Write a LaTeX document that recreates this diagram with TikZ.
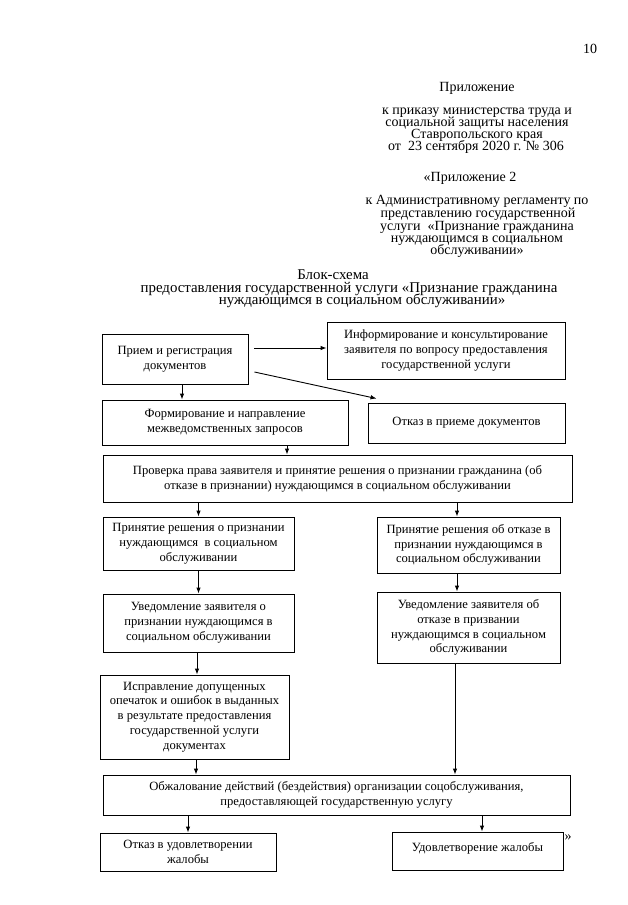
\documentclass[tikz,border=0pt]{standalone}
\usepackage{fontspec}
\setmainfont{Liberation Serif}
\usetikzlibrary{arrows.meta}
\tikzset{
  box/.style={draw, line width=0.9pt, align=center, inner sep=0pt, font=\fontsize{12.6}{14.8}\selectfont},
  arr/.style={line width=0.9pt, -{Latex[length=6pt,width=4.5pt]}},
  hdr/.style={anchor=base, inner sep=0pt, font=\fontsize{14}{12.3}\selectfont},
  ttl/.style={anchor=base, inner sep=0pt, font=\fontsize{14.9}{12.3}\selectfont},
}
\begin{document}
\begin{tikzpicture}[x=1pt,y=-1pt]
\useasboundingbox[fill=white] (0,0) rectangle (627,905);
% header
\node[hdr] (pg) at (590,53) {10};
\node[hdr] (h1) at (477,91) {Приложение};
\node[hdr] (h2) at (477,114) {к приказу министерства труда и};
\node[hdr] (h3) at (477,126) {социальной защиты населения};
\node[hdr] (h4) at (477,138) {Ставропольского края};
\node[hdr] (h5) at (476,150) {от\ \ 23 сентября 2020 г. № 306};
\node[hdr] (h6) at (470,181) {«Приложение 2};
\node[hdr] (h7) at (477,204) {к Административному регламенту по};
\node[hdr] (h8) at (478,217) {представлению государственной};
\node[hdr] (h9) at (477,230) {услуги\ \ «Признание гражданина};
\node[hdr] (h10) at (477,242) {нуждающимся в социальном};
\node[hdr] (h11) at (477,254) {обслуживании»};
% title
\node[ttl] (t1) at (333,279) {Блок-схема};
\node[ttl] (t2) at (349,292) {предоставления государственной услуги «Признание гражданина};
\node[ttl] (t3) at (362,304) {нуждающимся в социальном обслуживании»};
% boxes
\node[box, minimum width=146, minimum height=50] (priem) at (175,359) {Прием и регистрация\\документов};
\node[box, minimum width=238, minimum height=57] (inform) at (446,350.5) {Информирование и консультирование\\заявителя по вопросу предоставления\\государственной услуги};
\node[box, minimum width=246, minimum height=45] (form) at (225,422.5) {Формирование и направление\\межведомственных запросов};
\node[box, minimum width=197, minimum height=40] (otkaz) at (466.5,423) {Отказ в приеме документов};
\node[box, minimum width=469, minimum height=47] (prov) at (337.5,478.5) {Проверка права заявителя и принятие решения о признании гражданина (об\\отказе в признании) нуждающимся в социальном обслуживании};
\node[box, minimum width=191, minimum height=53] (prin1) at (198.5,543.5) {Принятие решения о признании\\нуждающимся\ \ в социальном\\обслуживании};
\node[box, minimum width=183, minimum height=56] (prin2) at (468.5,545) {Принятие решения об отказе в\\признании нуждающимся в\\социальном обслуживании};
\node[box, minimum width=191, minimum height=58] (uv1) at (198.5,623) {Уведомление заявителя о\\признании нуждающимся в\\социальном обслуживании};
\node[box, minimum width=183, minimum height=71] (uv2) at (468.5,627.5) {Уведомление заявителя об\\отказе в призвании\\нуждающимся в социальном\\обслуживании};
\node[box, minimum width=189, minimum height=84] (ispr) at (194.5,717) {Исправление допущенных\\опечаток и ошибок в выданных\\в результате предоставления\\государственной услуги\\документах};
\node[box, minimum width=467, minimum height=40] (obzh) at (336.5,795) {Обжалование действий (бездействия) организации соцобслуживания,\\предоставляющей государственную услугу};
\node[box, minimum width=176, minimum height=38] (otk2) at (188,852) {Отказ в удовлетворении\\жалобы};
\node[box, minimum width=171, minimum height=38] (udov) at (477.5,851) {Удовлетворение жалобы\rule[-9pt]{0pt}{1pt}};
\node[hdr] (q) at (568,840) {»};
% connectors
\draw[arr] ([shift={(6,-11)}]priem.east) coordinate (p1) -- (p1 -| inform.west);
\draw[arr] ([shift={(6,13)}]priem.east) -- ([shift={(9,-4)}]otkaz.north west);
\draw[arr] ([xshift=7]priem.south) coordinate (p2) -- (p2 |- form.north);
\draw[arr] ([xshift=62]form.south) coordinate (p3) -- (p3 |- prov.north);
\draw[arr] (prin1.north |- prov.south) -- (prin1.north);
\draw[arr] ([xshift=-11.5]prin2.north |- prov.south) coordinate (p4) -- (p4 |- prin2.north);
\draw[arr] (prin1.south) -- (uv1.north);
\draw[arr] ([xshift=-11.5]prin2.south) coordinate (p5) -- (p5 |- uv2.north);
\draw[arr] ([xshift=-1.5]uv1.south) coordinate (p6) -- (p6 |- ispr.north);
\draw[arr] ([xshift=-13.5]uv2.south) coordinate (p7) -- (p7 |- obzh.north);
\draw[arr] ([xshift=1.5]ispr.south) coordinate (p8) -- (p8 |- obzh.north);
\draw[arr] (otk2.north |- obzh.south) -- (otk2.north);
\draw[arr] ([xshift=4.5]udov.north |- obzh.south) coordinate (p9) -- (p9 |- udov.north);
\end{tikzpicture}
\end{document}
